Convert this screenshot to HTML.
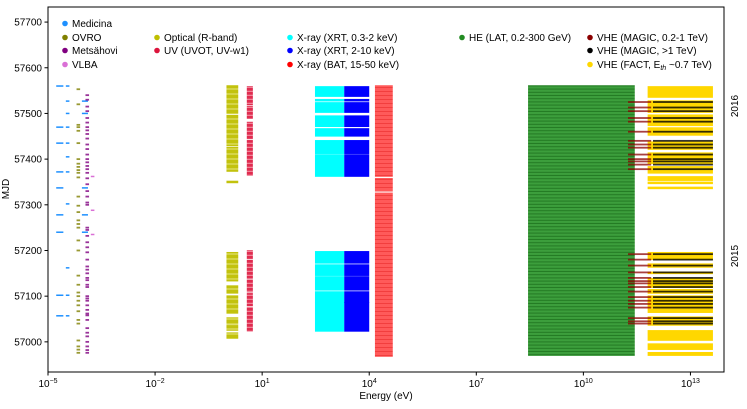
<!DOCTYPE html>
<html><head><meta charset="utf-8"><style>
body{margin:0;background:#fff;}
svg{display:block;font-family:"Liberation Sans","DejaVu Sans",sans-serif;}
</style></head><body>
<svg id="chart" width="747" height="409" viewBox="0 0 747 409">
<defs>
<pattern id="latStripe" width="10" height="3.2" patternUnits="userSpaceOnUse">
<rect width="10" height="3.2" fill="#3c9e3c"/><rect y="2.2" width="10" height="1" fill="#237a23"/>
</pattern>
<pattern id="optStripe" width="10" height="5" patternUnits="userSpaceOnUse">
<rect width="10" height="5" fill="#bfbf00"/><rect y="3.6" width="10" height="0.8" fill="#eeee99"/>
</pattern>
<pattern id="uvStripe" width="10" height="4" patternUnits="userSpaceOnUse">
<rect width="10" height="4" fill="#dc143c"/><rect y="2.8" width="10" height="0.9" fill="#f5a0b0"/>
</pattern>
<pattern id="batStripe" width="10" height="4" patternUnits="userSpaceOnUse">
<rect width="10" height="4" fill="#ff4848"/><rect y="3" width="10" height="0.8" fill="#ee2020"/>
</pattern>
</defs>
<g id="marks"></g>
<g id="axes"></g>
<g id="legend"></g>
</svg>
<script>
// ---- data (MJD) ----
const medicinaA = [57560,57470,57435,57372,57337,57278,57240,57102,57057];
const medicinaB = [57560,57527,57500,57470,57435,57405,57372,57302,57162,57102,57057];
const medicinaC = [57527,57500,57337,57278,57240];
const ovroMJD = [57553,57520,57475,57470,57462,57435,57400,57390,57383,57376,57370,57360,57318,57298,57284,57266,57258,57250,57222,57200,57145,57125,57108,57100,57090,57080,57067,57048,57040,57003,56990,56983,56976];
const metsahoviMJD = [57540,57530,57515,57505,57490,57480,57470,57463,57455,57445,57432,57422,57410,57400,57393,57385,57378,57370,57358,57345,57330,57318,57305,57300,57250,57245,57232,57218,57207,57196,57180,57165,57158,57150,57140,57135,57125,57120,57100,57095,57090,57080,57070,57062,57058,57048,57030,57020,57012,57000,56990,56982,56976];
const vlbaMJD = [57362,57288,57235];
const opticalStart = [57500,57430,57374,57349,57138,57134,57107,57063,57039,57026,57008];
const opticalEnd   = [57560,57495,57425,57351,57195,57136,57122,57100,57052,57035,57019];
const uvStart = [57520,57490,57445,57365,57183,57140,57110,57080,57024];
const uvEnd   = [57558,57515,57480,57440,57199,57178,57135,57105,57075];
const xrtStart = [57538,57528,57503,57472,57451,57413,57363,57173,57146,57114,57087,57024];
const xrtEnd   = [57558,57530,57523,57494,57466,57440,57409,57197,57168,57142,57109,57085];
const batStart = [57363,57331,56969];
const batEnd   = [57560,57357,57325];
const latStart = [56971];
const latEnd   = [57560];
const factStart = [57536,57503,57474,57453,57422,57391,57370,57354,57347,57336,57181,57164,57150,57120,57107,57087,57076,57065,57037,57004,56984,56971];
const factEnd   = [57558,57527,57496,57468,57437,57413,57383,57361,57349,57338,57195,57170,57152,57138,57114,57100,57085,57072,57054,57024,56995,56976];
const magicMJD = [57525,57513,57505,57490,57482,57460,57440,57432,57425,57410,57400,57395,57388,57378,57192,57180,57167,57152,57140,57133,57128,57120,57110,57098,57090,57083,57075,57052,57045,57040];
// energy ranges (log10 eV)
const bandNames = ["medA","medB","medC","ovro","metsa","vlba","optical","uv","xrt","xrtHard","bat","lat","magicLow","magicHigh","fact"];
const bandLogMin = [-4.77,-4.5,-4.05,-4.2,-3.95,-3.8,0.0,0.57,2.48,3.3,4.16,8.45,11.25,11.95,11.8];
const bandLogMax = [-4.57,-4.4,-3.88,-4.1,-3.85,-3.7,0.33,0.74,3.3,4.0,4.66,11.44,11.9,13.63,13.63];
const xTickExp = [-5,-2,1,4,7,10,13];
const yTicks = [57000,57100,57200,57300,57400,57500,57600,57700];

// ---- scales ----
const X0=48,X1=724,Y0=7,Y1=372;
const LOGMIN=-5,LOGMAX=13.94,MJDMIN=56934,MJDMAX=57733;
const xs=l=>X0+(l-LOGMIN)/(LOGMAX-LOGMIN)*(X1-X0);
const ys=m=>Y1-(m-MJDMIN)/(MJDMAX-MJDMIN)*(Y1-Y0);
const NS="http://www.w3.org/2000/svg";
const marks=document.getElementById('marks');
function mk(tag,attrs,parent){const e=document.createElementNS(NS,tag);for(const k in attrs)e.setAttribute(k,attrs[k]);parent.appendChild(e);return e;}
function band(i){return [xs(bandLogMin[i]),xs(bandLogMax[i])];}
function dashes(list,bi,color,name,h,op){
  const [a,b]=band(bi);
  list.forEach(m=>{const r=mk('rect',{x:a,y:ys(m)-h/2,width:b-a,height:h,fill:color,opacity:op},marks);
    
    });
}
function blocks(s,e,bi,color,name,op,fill){
  const [a,b]=band(bi);
  s.forEach((st,k)=>{const y1=ys(e[k])-0.8,y2=ys(st)+0.8;
    const r=mk('rect',{x:a,y:y1,width:b-a,height:y2-y1,fill:fill||color,opacity:op},marks);
    
    });
}
blocks(latStart,latEnd,11,'#3c9e3c','lat',1,'url(#latStripe)');
blocks(factStart,factEnd,14,'#ffd700','fact',1);
dashes(magicMJD,12,'#8b0000','magic-low',1.8,0.75);
dashes(magicMJD,13,'#000000','magic-high',1.8,0.8);
dashes(medicinaA,0,'#1e90ff','medicina',1.5,1);
dashes(medicinaB,1,'#1e90ff','medicina',1.5,1);
dashes(medicinaC,2,'#1e90ff','medicina',1.5,1);
dashes(ovroMJD,3,'#808000','ovro',1.8,0.8);
dashes(metsahoviMJD,4,'#800080','metsahovi',1.8,0.8);
dashes(vlbaMJD,5,'#da70d6','vlba',1.5,1);
blocks(opticalStart,opticalEnd,6,'#bfbf00','optical',0.95,'url(#optStripe)');
blocks(uvStart,uvEnd,7,'#dc143c','uv',0.9,'url(#uvStripe)');
blocks(xrtStart,xrtEnd,8,'#00ffff','xrt-soft',1);
blocks(xrtStart,xrtEnd,9,'#0000ff','xrt-hard',1);
blocks(batStart,batEnd,10,'#ff3030','bat',0.9,'url(#batStripe)');

// ---- axes ----
const ax=document.getElementById('axes');
let f=mk('rect',{x:X0,y:Y0,width:X1-X0,height:Y1-Y0,fill:'none',stroke:'#000','stroke-width':1},ax);

yTicks.forEach(t=>{const y=ys(t);
  mk('line',{x1:X0-3.5,x2:X0,y1:y,y2:y,stroke:'#000'},ax);
  const tx=mk('text',{x:X0-6,y:y+3.5,'font-size':10,'text-anchor':'end'},ax);tx.textContent=t;
  });
xTickExp.forEach(e=>{const x=xs(e);
  mk('line',{x1:x,x2:x,y1:Y1,y2:Y1+3.5,stroke:'#000'},ax);
  const tx=mk('text',{x:x,y:Y1+15,'font-size':10,'text-anchor':'middle'},ax);
  tx.innerHTML='10<tspan dy="-4" font-size="7">'+(e<0?'\u2212'+(-e):e)+'</tspan>';
  });
</script>
<script>
const svg=document.getElementById('chart');
function T(x,y,txt,name,attrs){const e=document.createElementNS("http://www.w3.org/2000/svg",'text');e.setAttribute('x',x);e.setAttribute('y',y);e.setAttribute('font-size',attrs&&attrs.fs||10);
 if(attrs&&attrs.anchor)e.setAttribute('text-anchor',attrs.anchor);if(attrs&&attrs.tr)e.setAttribute('transform',attrs.tr);e.innerHTML=txt;
 svg.appendChild(e);return e;}
T(386,399,'Energy (eV)','x-axis-title',{anchor:'middle'});
T(0,0,'MJD','y-axis-title',{anchor:'middle',tr:'translate(9,189) rotate(-90)'});
T(0,0,'2016','year-label-2016',{anchor:'middle',tr:'translate(738,106) rotate(-90)'});
T(0,0,'2015','year-label-2015',{anchor:'middle',tr:'translate(738,256) rotate(-90)'});
const leg=[[65,27,'#1e90ff','Medicina'],[65,41,'#808000','OVRO'],[65,54,'#800080','Metsähovi'],[65,68,'#da70d6','VLBA'],
[157,41,'#bfbf00','Optical (R-band)'],[157,54,'#dc143c','UV (UVOT, UV-w1)'],
[290,41,'#00ffff','X-ray (XRT, 0.3-2 keV)'],[290,54,'#0000ff','X-ray (XRT, 2-10 keV)'],[290,68,'#ff0000','X-ray (BAT, 15-50 keV)'],
[462,41,'#228b22','HE (LAT, 0.2-300 GeV)'],
[590,41,'#8b0000','VHE (MAGIC, 0.2-1 TeV)'],[590,54,'#000000','VHE (MAGIC, &gt;1 TeV)'],[590,68,'#ffd700','VHE (FACT, E<tspan dy="2" font-size="7" font-style="italic">th</tspan><tspan dy="-2"> ~0.7 TeV)</tspan>']];
leg.forEach(l=>{const c=document.createElementNS("http://www.w3.org/2000/svg",'circle');
 c.setAttribute('cx',l[0]);c.setAttribute('cy',l[1]-3.5);c.setAttribute('r',2.8);c.setAttribute('fill',l[2]);
 svg.appendChild(c);
 T(l[0]+7,l[1],l[3],'legend-entry');});
</script>
</body></html>
